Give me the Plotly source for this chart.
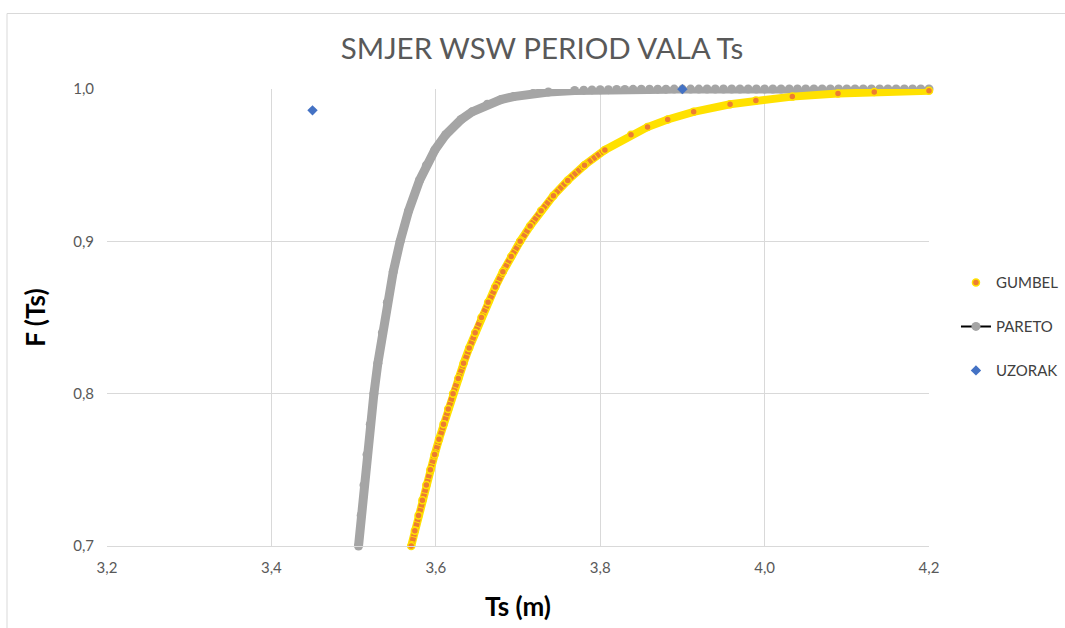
import plotly.graph_objects as go

# ---- data ----
gumbel_ts = [3.5701, 3.5745, 3.5790, 3.5837, 3.5885, 3.5934, 3.5986, 3.6039, 3.6094, 3.6151,
             3.6210, 3.6273, 3.6338, 3.6406, 3.6479, 3.6555, 3.6636, 3.6723, 3.6816, 3.6917,
             3.7026, 3.7147, 3.7281, 3.7431, 3.7605, 3.7809, 3.8057, 3.8375, 3.8576, 3.8821,
             3.9137, 3.9580, 3.9894, 4.0337, 4.0893, 4.1334, 4.2000]
gumbel_f = [0.70, 0.71, 0.72, 0.73, 0.74, 0.75, 0.76, 0.77, 0.78, 0.79,
            0.80, 0.81, 0.82, 0.83, 0.84, 0.85, 0.86, 0.87, 0.88, 0.89,
            0.90, 0.91, 0.92, 0.93, 0.94, 0.95, 0.96, 0.97, 0.975, 0.98,
            0.985, 0.99, 0.9925, 0.995, 0.997, 0.998, 0.9989]

pareto_ts = [3.5060, 3.5092, 3.5126, 3.5163, 3.5203, 3.5247, 3.5295, 3.5350, 3.5411, 3.5482,
             3.5566, 3.5669, 3.5802, 3.5886, 3.5989, 3.6121, 3.6308, 3.6441, 3.6627, 3.6792,
             3.6947, 3.7182, 3.7369, 3.7689, 3.78, 3.79, 3.80, 3.81, 3.82, 3.83,
             3.84, 3.85, 3.86, 3.87, 3.88, 3.89, 3.90, 3.91, 3.92, 3.93,
             3.94, 3.95, 3.96, 3.97, 3.98, 3.99, 4.00, 4.01, 4.02, 4.03,
             4.04, 4.05, 4.06, 4.07, 4.08, 4.09, 4.10, 4.11, 4.12, 4.13,
             4.14, 4.15, 4.16, 4.17, 4.18, 4.19, 4.20]
pareto_f = [0.70, 0.72, 0.74, 0.76, 0.78, 0.80, 0.82, 0.84, 0.86, 0.88,
            0.90, 0.92, 0.94, 0.95, 0.96, 0.97, 0.98, 0.985, 0.99, 0.993,
            0.995, 0.997, 0.998, 0.999, 0.99924, 0.99938, 0.99949, 0.99958, 0.99967, 0.99973,
            0.99979, 0.99983, 0.99986, 0.99989, 0.99991, 0.99993, 0.99994, 0.99995, 0.99996, 0.99997,
            0.99997, 0.99998, 0.99998, 0.99998, 0.99999, 0.99999, 0.99999, 0.99999, 0.99999, 1.0,
            1.0, 1.0, 1.0, 1.0, 1.0, 1.0, 1.0, 1.0, 1.0, 1.0,
            1.0, 1.0, 1.0, 1.0, 1.0, 1.0, 1.0]

uzorak_ts = [3.45, 3.90]
uzorak_f = [0.986, 0.9999]

x_ticks = [3.2, 3.4, 3.6, 3.8, 4.0, 4.2]
y_ticks = [0.7, 0.8, 0.9, 1.0]

FONT = "Lato"
GREY_TXT = "#595959"
ORANGE = "#ED7D31"
YELLOW = "#FFE100"
GREY = "#A5A5A5"
BLUE = "#4472C4"

steep = [i for i, f in enumerate(gumbel_f) if f <= 0.96]

fig = go.Figure()

# PARETO (legend carries black line + grey marker); thick grey line hides the black line
fig.add_trace(go.Scatter(
    x=pareto_ts, y=pareto_f, mode="lines+markers", name="PARETO",
    line=dict(color="#000000", width=2),
    marker=dict(color=GREY, size=9, line=dict(width=0)),
    legendgroup="p", legendrank=2, cliponaxis=False))
fig.add_trace(go.Scatter(
    x=pareto_ts, y=pareto_f, mode="lines", showlegend=False, legendgroup="p",
    line=dict(color=GREY, width=9), hoverinfo="skip"))

# GUMBEL
fig.add_trace(go.Scatter(
    x=gumbel_ts, y=gumbel_f, mode="lines", showlegend=False, legendgroup="g",
    line=dict(color=YELLOW, width=8), hoverinfo="skip"))
fig.add_trace(go.Scatter(
    x=[gumbel_ts[i] for i in steep], y=[gumbel_f[i] for i in steep], mode="lines",
    showlegend=False, legendgroup="g",
    line=dict(color=ORANGE, width=5.5, dash="4px,1px"), hoverinfo="skip"))
fig.add_trace(go.Scatter(
    x=gumbel_ts, y=gumbel_f, mode="markers", name="GUMBEL",
    marker=dict(color=ORANGE, size=7, line=dict(color=YELLOW, width=1.5)),
    legendgroup="g", legendrank=1, cliponaxis=False))

# UZORAK
fig.add_trace(go.Scatter(
    x=uzorak_ts, y=uzorak_f, mode="markers", name="UZORAK",
    marker=dict(color=BLUE, size=8, symbol="diamond"),
    legendgroup="u", legendrank=3, cliponaxis=False))

axis_common = dict(
    showgrid=True, gridcolor="#D9D9D9", gridwidth=1, zeroline=False,
    ticks="", tickfont=dict(family=FONT, size=15, color=GREY_TXT),
    tickformat=".1f",
)

W, H = 1065, 628
fig.update_layout(
    width=W, height=H,
    margin=dict(l=107, r=136, t=89, b=82, autoexpand=False),
    paper_bgcolor="white", plot_bgcolor="white",
    separators=",.",
    font=dict(family=FONT, color=GREY_TXT),
    title=dict(text="SMJER WSW PERIOD VALA Ts", x=542 / W, xref="container", xanchor="center",
               y=1 - 49 / H, yref="container", yanchor="middle",
               font=dict(family=FONT, size=29.5, color=GREY_TXT)),
    xaxis=dict(range=[3.2, 4.2], tickvals=x_ticks, showline=True, linecolor="#D9D9D9", linewidth=1,
               ticklabelstandoff=8,
               title=dict(text="<b>Ts (m)</b>", standoff=22,
                          font=dict(family=FONT, size=26, color="#000000")),
               **axis_common),
    yaxis=dict(range=[0.7, 1.0], tickvals=y_ticks, showline=False, ticklabelstandoff=12,
               title=dict(text="<b>F (Ts)</b>", standoff=20,
                          font=dict(family=FONT, size=26, color="#000000")),
               **axis_common),
    legend=dict(x=1.0328, xanchor="left", y=0.48, yanchor="middle",
                font=dict(family=FONT, size=15, color="#404040"),
                bgcolor="rgba(0,0,0,0)", tracegroupgap=21.5, traceorder="grouped"),
    showlegend=True,
    shapes=[dict(type="rect", xref="paper", yref="paper",
                 x0=(7 - 107) / 822, x1=1.25, y0=-0.3, y1=(546 - 13.5) / 457,
                 line=dict(color="#D9D9D9", width=1), fillcolor="rgba(0,0,0,0)", layer="below")],
)

# remove the default 8px page margin so the figure sits at the window origin
fig.write_html("out.html", config={"displayModeBar": False},
               post_script="document.body.style.margin='0px';")
